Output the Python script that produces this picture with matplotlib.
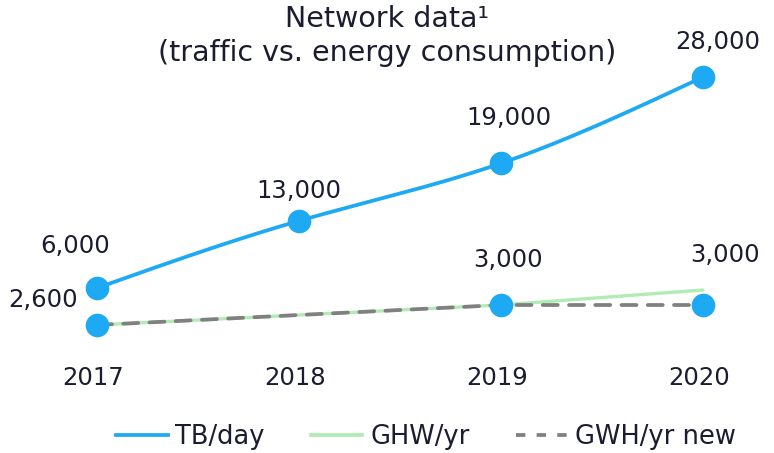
import numpy as np
import matplotlib
matplotlib.use("Agg")
import matplotlib.pyplot as plt
from matplotlib.lines import Line2D

# ---- data ----
years = ["2017", "2018", "2019", "2020"]
tb_day = [6000, 13000, 19000, 28000]          # TB/day
ghw_yr = [2600, 2800, 3000, 3300]             # GHW/yr (2018 & 2020 unlabeled)
gwh_new = [2600, 2800, 3000, 3000]            # GWH/yr new
tb_labels = ["6,000", "13,000", "19,000", "28,000"]
gwh_label_idx = [0, 2, 3]
gwh_labels = ["2,600", "3,000", "3,000"]
legend_labels = ["TB/day", "GHW/yr", "GWH/yr new"]

# ---- style ----
W, H = 774, 453
BLUE = "#1DA9F3"
GREEN = "#B2ECB5"
GRAY = "#808080"
TXT = "#1B1C30"
FS = 17.5

fig = plt.figure(figsize=(W / 100, H / 100), dpi=100)
ax = fig.add_axes([0, 0, 1, 1])
ax2 = ax.twinx()
for a in (ax, ax2):
    a.set_axis_off()

x = np.arange(len(years))
# x layout: first point near 97px, last near 703px
x0p, x1p = 97, 703
sx = (x1p - x0p) / (len(years) - 1)
ax.set_xlim(-x0p / sx, (W - x0p) / sx)

def lims(v0, p0, v1, p1):
    f0, f1 = 1 - p0 / H, 1 - p1 / H
    b = (v1 - v0) / (f1 - f0)
    a = v0 - f0 * b
    return a, a + b

# TB axis: linear, roughly fitted to the reference layout
ax2.set_ylim(*lims(tb_day[0], 288, tb_day[-1], 77))
# GWh axis
ax.set_ylim(*lims(2600, 325, 3000, 305))

# smooth natural cubic spline through TB points (for drawing only)
def nat_spline(xs, ys, n=200):
    xs = np.asarray(xs, float); ys = np.asarray(ys, float)
    m = len(xs); h = np.diff(xs)
    A = np.zeros((m, m)); r = np.zeros(m)
    A[0, 0] = A[-1, -1] = 1
    for i in range(1, m - 1):
        A[i, i - 1] = h[i - 1]; A[i, i] = 2 * (h[i - 1] + h[i]); A[i, i + 1] = h[i]
        r[i] = 3 * ((ys[i + 1] - ys[i]) / h[i] - (ys[i] - ys[i - 1]) / h[i - 1])
    c = np.linalg.solve(A, r)
    xx = np.linspace(xs[0], xs[-1], n); yy = np.empty_like(xx)
    for k, t in enumerate(xx):
        i = min(np.searchsorted(xs, t, side="right") - 1, m - 2)
        d = t - xs[i]
        b = (ys[i + 1] - ys[i]) / h[i] - h[i] * (2 * c[i] + c[i + 1]) / 3
        dd = (c[i + 1] - c[i]) / (3 * h[i])
        yy[k] = ys[i] + b * d + c[i] * d ** 2 + dd * d ** 3
    return xx, yy

xs_s, ys_s = nat_spline(x, tb_day)
ax2.plot(xs_s, ys_s, color=BLUE, lw=2.7, solid_capstyle="round", zorder=3)
ax2.plot(x, tb_day, "o", color=BLUE, ms=17, mec="none", zorder=4)

ax.plot(x, ghw_yr, color=GREEN, lw=2.4, solid_capstyle="round", zorder=2)
ax.plot(x, gwh_new, color=GRAY, lw=2.7, dashes=(4, 3), dash_capstyle="round", zorder=2.5)
ax.plot(x[gwh_label_idx], np.array(gwh_new)[gwh_label_idx], "o", color=BLUE, ms=17,
        mec="none", zorder=4)

# data labels (offsets in pixels)
tb_off = [(-22, 42), (0, 30), (8, 45), (15, 35)]
for xi, v, lab, (dx, dy) in zip(x, tb_day, tb_labels, tb_off):
    ax2.annotate(lab, (xi, v), xytext=(dx, dy), textcoords="offset pixels",
                 ha="center", va="center", fontsize=FS, color=TXT)
gwh_off = [(-54, 25), (7, 45), (22, 50)]
for i, lab, (dx, dy) in zip(gwh_label_idx, gwh_labels, gwh_off):
    ax.annotate(lab, (x[i], gwh_new[i]), xytext=(dx, dy), textcoords="offset pixels",
                ha="center", va="center", fontsize=FS, color=TXT)

# year labels
for xi, yl in zip(x, years):
    ax.text(xi - 0.02, 1 - 378 / H, yl, transform=ax.get_xaxis_transform(), ha="center",
            va="center", fontsize=FS, color=TXT)

# title
fig.text(0.5, 1 - 19 / H, "Network data\u00b9", ha="center", va="center",
         fontsize=20.5, color=TXT)
fig.text(0.5, 1 - 53 / H, "(traffic vs. energy consumption)", ha="center", va="center",
         fontsize=20.5, color=TXT)

handles = [
    Line2D([], [], color=BLUE, lw=2.7),
    Line2D([], [], color=GREEN, lw=2.7),
    Line2D([], [], color=GRAY, lw=2.7, dashes=(2.5, 3)),
]
fig.legend(handles, legend_labels, loc="center", bbox_to_anchor=(426 / W, 1 - 437 / H),
           ncol=3, frameon=False, fontsize=18.5, handlelength=2.0, handletextpad=0.3,
           columnspacing=1.8, labelcolor=TXT)

fig.savefig("out.png", dpi=100, facecolor="white")
